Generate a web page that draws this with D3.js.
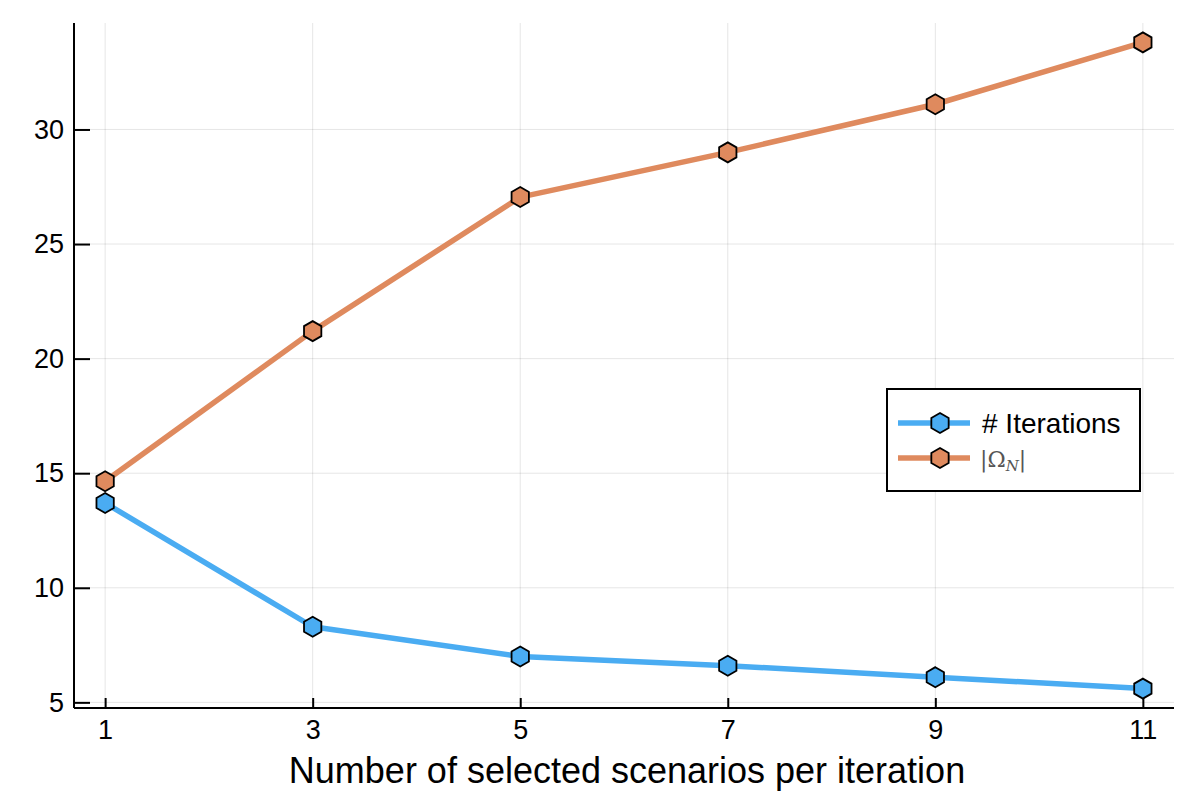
<!DOCTYPE html>
<html>
<head>
<meta charset="utf-8">
<script src="https://cdn.jsdelivr.net/npm/d3@7"></script>
<style>
  html, body { margin: 0; padding: 0; background: #fff; }
  svg { display: block; }
</style>
</head>
<body>
<svg id="chart" width="1200" height="800"></svg>
<script>
const xValues = [1, 3, 5, 7, 9, 11];
const iterations = [13.7, 8.3, 7.0, 6.6, 6.1, 5.6];
const omegaN = [14.65, 21.2, 27.05, 29.0, 31.1, 33.8];
const xTicks = [1, 3, 5, 7, 9, 11];
const yTicks = [5, 10, 15, 20, 25, 30];
const xLabel = "Number of selected scenarios per iteration";
const seriesNames = ["# Iterations", "omega"];

const colors = ["#4aacf2", "#df8a5e"];

const svg = d3.select("#chart");
const pLeft = 74, pRight = 1174, pTop = 23, pBottom = 708;

const x = d3.scaleLinear().domain([0.7, 11.3]).range([pLeft, pRight]);
const y = d3.scaleLinear().domain([4.754, 34.646]).range([pBottom, pTop]);

// grid
const grid = svg.append("g");
grid.selectAll(".gx").data(xTicks).join("line")
  .attr("x1", d => x(d)).attr("x2", d => x(d))
  .attr("y1", pTop).attr("y2", pBottom)
  .attr("stroke", "#000").attr("stroke-opacity", 0.1).attr("stroke-width", 1);
grid.selectAll(".gy").data(yTicks).join("line")
  .attr("x1", pLeft).attr("x2", pRight)
  .attr("y1", d => y(d)).attr("y2", d => y(d))
  .attr("stroke", "#000").attr("stroke-opacity", 0.1).attr("stroke-width", 1);

// axes
const xAxis = d3.axisBottom(x).tickValues(xTicks).tickSize(-10).tickPadding(12).tickSizeOuter(0);
const gx = svg.append("g").attr("transform", `translate(0,${pBottom})`).call(xAxis);
const yAxis = d3.axisLeft(y).tickValues(yTicks).tickSize(-16).tickPadding(10).tickSizeOuter(0);
const gy = svg.append("g").attr("transform", `translate(${pLeft},0)`).call(yAxis);
[gx, gy].forEach(g => {
  g.select(".domain").attr("stroke", "#000").attr("stroke-width", 2);
  g.selectAll(".tick line").attr("stroke", "#000").attr("stroke-width", 2);
  g.selectAll(".tick text").attr("font-family", "Liberation Sans, Arial, sans-serif")
    .attr("font-size", 27).attr("fill", "#000");
});
gy.select(".domain").attr("d", `M0,${pBottom}V${pTop}`);
gx.select(".domain").attr("d", `M${pLeft},0H${pRight}`);

// x label
svg.append("text").attr("x", (pLeft + pRight) / 2 + 3).attr("y", 783)
  .attr("text-anchor", "middle")
  .attr("font-family", "Liberation Sans, Arial, sans-serif")
  .attr("font-size", 36).attr("fill", "#000").text(xLabel);

// hexagon path (pointy top)
function hexPath(r) {
  const pts = d3.range(6).map(i => {
    const a = Math.PI / 3 * i - Math.PI / 2;
    return [r * Math.cos(a), r * Math.sin(a)];
  });
  return "M" + pts.map(p => p.join(",")).join("L") + "Z";
}
const hex = hexPath(10);

const line = d3.line().x((d, i) => x(xValues[i])).y(d => y(d));
[iterations, omegaN].forEach((series, si) => {
  svg.append("path").datum(series).attr("d", line)
    .attr("fill", "none").attr("stroke", colors[si]).attr("stroke-width", 5.5)
    .attr("stroke-linejoin", "round");
});
[iterations, omegaN].forEach((series, si) => {
  svg.append("g").selectAll("path").data(series).join("path")
    .attr("d", hex)
    .attr("transform", (d, i) => `translate(${x(xValues[i])},${y(d)})`)
    .attr("fill", colors[si]).attr("stroke", "#000").attr("stroke-width", 1.8);
});

// legend
const lg = svg.append("g");
lg.append("rect").attr("x", 887).attr("y", 389).attr("width", 253).attr("height", 102)
  .attr("fill", "#fff").attr("stroke", "#000").attr("stroke-width", 2);
const legY = [423, 458];
legY.forEach((ly, i) => {
  lg.append("line").attr("x1", 898).attr("x2", 970).attr("y1", ly).attr("y2", ly)
    .attr("stroke", colors[i]).attr("stroke-width", 5.5);
  lg.append("path").attr("d", hex).attr("transform", `translate(940,${ly})`)
    .attr("fill", colors[i]).attr("stroke", "#000").attr("stroke-width", 1.8);
});
lg.append("text").attr("x", 982).attr("y", 433)
  .attr("font-family", "Liberation Sans, Arial, sans-serif")
  .attr("font-size", 28).attr("fill", "#000").text(seriesNames[0]);
const om = lg.append("text").attr("x", 980).attr("y", 467)
  .attr("font-family", "DejaVu Serif, Liberation Serif, serif")
  .attr("font-size", 22).attr("fill", "#555");
om.append("tspan").text("|Ω");
om.append("tspan").attr("font-size", 15).attr("font-style", "italic").attr("dy", 4).text("N");
om.append("tspan").attr("dy", -4).text("|");
</script>
</body>
</html>
